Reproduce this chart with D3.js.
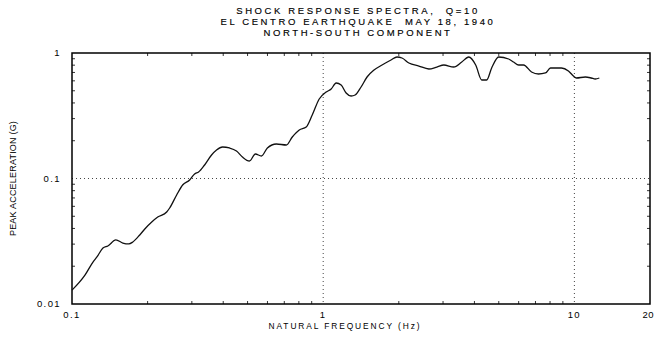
<!DOCTYPE html>
<html><head><meta charset="utf-8">
<script src="https://cdn.jsdelivr.net/npm/d3@7"></script>
<style>body{margin:0;background:#fff}svg{display:block}text{font-family:"Liberation Sans",Arial,sans-serif;fill:#000;white-space:pre}</style>
</head><body><svg id="c" width="655" height="340"></svg>
<script>
const titleLines = ["SHOCK RESPONSE SPECTRA,  Q=10", "EL CENTRO EARTHQUAKE  MAY 18, 1940", "NORTH-SOUTH COMPONENT"];
const xTitle = "NATURAL FREQUENCY (Hz)";
const yTitle = "PEAK ACCELERATION (G)";
const xTickValues = [0.1, 1, 10, 20];
const xTickLabels = ["0.1", "1", "10", "20"];
const yTickValues = [0.01, 0.1, 1];
const yTickLabels = ["0.01", "0.1", "1"];
const freq = [0.100,0.1126,0.1212,0.1257,0.1328,0.1389,0.1495,0.1594,0.1684,0.1746,0.1861,0.1949,0.2077,0.2194,0.2382,0.2448,0.261,0.2757,0.294,0.3077,0.3191,0.3372,0.3594,0.3762,0.3974,0.4236,0.4516,0.477,0.5085,0.5372,0.5675,0.5995,0.6509,0.7133,0.7534,0.8031,0.8561,0.9045,0.9641,1.028,1.076,1.126,1.179,1.234,1.292,1.34,1.415,1.495,1.594,1.715,1.862,1.967,2.059,2.194,2.404,2.634,2.835,3.022,3.31,3.562,3.797,4.047,4.276,4.476,4.684,4.994,5.472,5.727,5.995,6.275,6.751,7.195,7.671,8.032,8.88,9.467,9.91,10.18,11.06,11.68,12.11,12.57];
const accel = [0.0129,0.0170,0.0216,0.0237,0.0279,0.0290,0.0324,0.0306,0.0301,0.0312,0.0355,0.0396,0.0450,0.0493,0.0541,0.0582,0.0739,0.0888,0.0973,0.1086,0.1126,0.1281,0.1539,0.1687,0.1782,0.1750,0.1656,0.1484,0.1378,0.1568,0.1511,0.1750,0.1883,0.1849,0.2141,0.2434,0.2572,0.3206,0.430,0.4889,0.5165,0.5767,0.5559,0.4800,0.4543,0.4627,0.5359,0.6437,0.7320,0.8024,0.8795,0.9293,0.9124,0.8324,0.7877,0.7456,0.7733,0.8024,0.7733,0.8477,0.9293,0.8024,0.6094,0.6094,0.7594,0.9293,0.8957,0.8477,0.8024,0.8024,0.7058,0.6804,0.6929,0.7594,0.7594,0.7188,0.6557,0.6322,0.6437,0.6322,0.6207,0.6322];

const svg = d3.select("#c");
const L = 72, R = 650, T = 53, B = 304;
const x = d3.scaleLog().domain([0.1, 20]).range([L, R]);
const y = d3.scaleLog().domain([0.01, 1]).range([B, T]);

// title
svg.selectAll("text.title").data(titleLines).join("text")
  .attr("class","title").attr("x", 358).attr("y", (d,i)=>14 + i*10.8)
  .attr("text-anchor","middle").attr("font-size", 9.5).attr("letter-spacing", 2.6)
  .attr("stroke","#000").attr("stroke-width",0.15)
  .text(d=>d);

// minor ticks
const minor = [];
[0.1,1,10].forEach(dec=>{for(let k=2;k<=9;k++){const v=dec*k; if(v<20) minor.push(v);}});
const yMinor = [];
[0.01,0.1].forEach(dec=>{for(let k=2;k<=9;k++) yMinor.push(dec*k);});
const g = svg.append("g").attr("stroke","#000").attr("stroke-width",0.8);
minor.forEach(v=>{
  g.append("line").attr("x1",x(v)).attr("x2",x(v)).attr("y1",B).attr("y2",B-3);
  g.append("line").attr("x1",x(v)).attr("x2",x(v)).attr("y1",T).attr("y2",T+3);
});
yMinor.forEach(v=>{
  g.append("line").attr("x1",L).attr("x2",L+3).attr("y1",y(v)).attr("y2",y(v));
  g.append("line").attr("x1",R).attr("x2",R-3).attr("y1",y(v)).attr("y2",y(v));
});

// grid (dotted)
const grid = svg.append("g").attr("stroke","#444").attr("stroke-width",1).attr("stroke-dasharray","1,3");
[1,10].forEach(v=>grid.append("line").attr("x1",x(v)).attr("x2",x(v)).attr("y1",T).attr("y2",B));
[0.1].forEach(v=>grid.append("line").attr("x1",L).attr("x2",R).attr("y1",y(v)).attr("y2",y(v)));

// frame
svg.append("rect").attr("x",L).attr("y",T).attr("width",R-L).attr("height",B-T)
  .attr("fill","none").attr("stroke","#000").attr("stroke-width",1.5);

// tick labels
svg.selectAll("text.xt").data(xTickValues).join("text").attr("class","xt")
  .attr("x",d=>d===20 ? 654 : x(d)).attr("y",B+14)
  .attr("text-anchor",d=>d===20 ? "end" : "middle")
  .attr("font-size",9.5).attr("letter-spacing",d=>d===20 ? 0.5 : 1.4).text((d,i)=>xTickLabels[i]);
svg.selectAll("text.yt").data(yTickValues).join("text").attr("class","yt")
  .attr("x",L-11).attr("y",d=>y(d)+3).attr("text-anchor","end")
  .attr("font-size",9.5).attr("letter-spacing",1.4).text((d,i)=>yTickLabels[i]);

// axis titles
svg.append("text").attr("x",345).attr("y",329).attr("text-anchor","middle")
  .attr("font-size",8.4).attr("letter-spacing",1.9).text(xTitle);
svg.append("text").attr("transform",`translate(16,${(T+B)/2}) rotate(-90)`)
  .attr("text-anchor","middle").attr("font-size",9).attr("letter-spacing",0.2).text(yTitle);

// curve
const data = freq.map((f,i)=>[f,accel[i]]);
svg.append("path").datum(data)
  .attr("fill","none").attr("stroke","#111").attr("stroke-width",1.3)
  .attr("d", d3.line().x(d=>x(d[0])).y(d=>y(d[1])).curve(d3.curveMonotoneX));
</script></body></html>
